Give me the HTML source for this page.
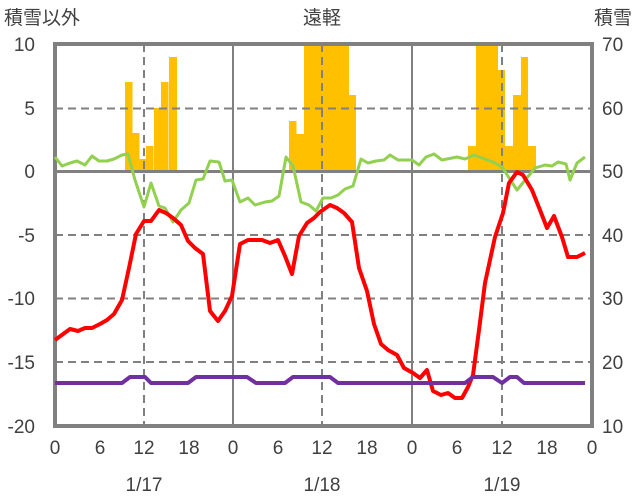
<!DOCTYPE html>
<html><head><meta charset="utf-8"><style>
body{margin:0;background:#fff}
svg{display:block;font-family:"Liberation Sans","Noto Sans CJK JP",sans-serif}
</style></head><body>
<svg width="636" height="501" viewBox="0 0 636 501">
<g fill="#FFC000">
<rect x="125" y="82" width="7.5" height="89"/><rect x="132" y="133" width="7.5" height="38"/><rect x="139" y="159" width="7.5" height="12"/><rect x="146" y="146" width="7.5" height="25"/><rect x="154" y="108" width="7.5" height="63"/><rect x="161" y="82" width="7.5" height="89"/><rect x="169" y="57" width="8" height="114"/>
<rect x="289" y="121" width="7.5" height="50"/><rect x="296" y="134" width="8" height="37"/><rect x="304" y="44" width="45" height="127"/><rect x="349" y="95" width="7" height="76"/>
<rect x="468" y="146" width="8" height="25"/><rect x="476" y="44" width="22" height="127"/><rect x="498" y="70" width="7" height="101"/><rect x="505" y="146" width="8" height="25"/><rect x="513" y="95" width="8" height="76"/><rect x="521" y="57" width="7" height="114"/><rect x="528" y="146" width="8" height="25"/>
</g>
<g stroke="#808080" stroke-width="2" stroke-dasharray="8,5" fill="none">
<line x1="55" y1="108.5" x2="592" y2="108.5"/><line x1="55" y1="235" x2="592" y2="235"/><line x1="55" y1="298.5" x2="592" y2="298.5"/><line x1="55" y1="362" x2="592" y2="362"/>
<line x1="144" y1="44" x2="144" y2="426"/><line x1="322" y1="44" x2="322" y2="426"/><line x1="502" y1="44" x2="502" y2="426"/>
</g>
<g stroke="#808080" fill="none">
<line x1="233" y1="44" x2="233" y2="426" stroke-width="2"/><line x1="412" y1="44" x2="412" y2="426" stroke-width="2"/>
<line x1="55" y1="171.5" x2="592" y2="171.5" stroke-width="3"/>
<rect x="55" y="44" width="537" height="382" stroke-width="4"/>
</g>
<polyline fill="none" stroke="#92D050" stroke-width="3" stroke-linejoin="round" points="55,157 62,166 70,163 77,161 85,165 92,156 99,161 107,161 114,159 122,155 128,154 135,180 144,207 151,183 159,206 165,208 173,222 181,210 189,203 196,180 203,179 210,161 219,162 225,181 232,180 240,202 248,198 255,205 265,202 272,201 279,196 286,157 293,166 301,202 309,205 316,211 323,198 331,198 338,195 345,189 353,186 361,159 368,163 376,161 384,160 390,155 398,160 406,160 412,160 419,165 426,157 434,154 442,160 457,157 465,159 474,155 493,162 502,167 517,190 535,168 545,165 552,166 558,162 566,164 570,180 577,163 585,157"/>
<polyline fill="none" stroke="#FF0000" stroke-width="4" stroke-linejoin="round" points="55,340 70,329 78,331 85,328 92,328 100,324 107,320 114,314 122,300 129,268 136,234 144,221 151,221 159,210 166,213 173,218 181,225 188,241 195,248 203,254 210,311 218,321 225,311 232,296 240,244 248,240 255,240 262,240 270,243 278,240 285,256 292,274 299,236 307,223 314,218 320,212 330,205 337,208 344,213 352,222 359,268 367,291 374,324 381,344 388,350 397,355 404,368 413,373 420,378 427,370 433,391 441,395 448,393 455,398 462,398 468,387 473,375 479,330 485,283 495,237 503,213 509,183 517,172 523,175 532,190 540,210 547,228 554,216 562,237 568,257 577,257 585,253"/>
<polyline fill="none" stroke="#7030A0" stroke-width="4" stroke-linejoin="round" points="55,383 122,383 130,377 145,377 151,383 188,383 196,377 247,377 256,383 285,383 293,377 330,377 338,383 465,383 473,377 493,377 502,383 510,377 517,377 524,383 585,383"/>
<g font-size="19" fill="#404040">
<g text-anchor="end">
<text x="35" y="51">10</text><text x="35" y="115">5</text><text x="35" y="178">0</text><text x="35" y="242">-5</text><text x="35" y="305">-10</text><text x="35" y="369">-15</text><text x="35" y="433">-20</text>
</g>
<g text-anchor="start">
<text x="602" y="51">70</text><text x="602" y="115">60</text><text x="602" y="178">50</text><text x="602" y="242">40</text><text x="602" y="305">30</text><text x="602" y="369">20</text><text x="602" y="433">10</text>
</g>
<g text-anchor="middle">
<text x="55" y="454">0</text><text x="100" y="454">6</text><text x="144" y="454">12</text><text x="189" y="454">18</text>
<text x="233" y="454">0</text><text x="278" y="454">6</text><text x="322" y="454">12</text><text x="367" y="454">18</text>
<text x="412" y="454">0</text><text x="457" y="454">6</text><text x="502" y="454">12</text><text x="547" y="454">18</text><text x="592" y="454">0</text>
<text x="144" y="491">1/17</text><text x="322" y="491">1/18</text><text x="502" y="491">1/19</text>
<text x="322" y="24">遠軽</text>
</g>
<text x="4" y="24">積雪以外</text>
<text x="632" y="24" text-anchor="end">積雪</text>
</g>
</svg>
</body></html>
